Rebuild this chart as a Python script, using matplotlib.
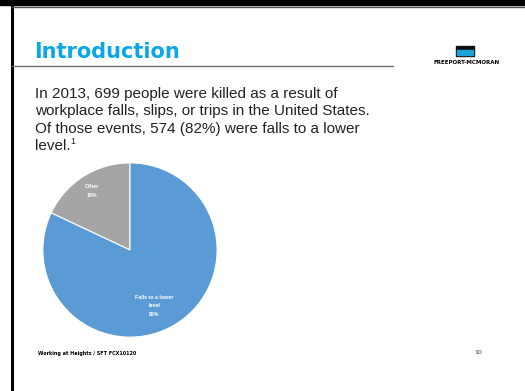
import matplotlib.pyplot as plt
from matplotlib.patches import Rectangle
from matplotlib.lines import Line2D

W, H = 525, 391

labels = ['Other', 'Falls to a lower\nlevel']
shares = [18, 82]
colours = ['#a5a5a5', '#5b9bd5']

title = 'Introduction'
body_lines = ['In 2013, 699 people were killed as a result of',
              'workplace falls, slips, or trips in the United States.',
              'Of those events, 574 (82%) were falls to a lower',
              'level.']
footer = 'Working at Heights / SFT FCX10120'
page = '10'


def fx(x):
    return x / W


def fy(y):
    return 1 - y / H


fig = plt.figure(figsize=(W / 100, H / 100), dpi=100)
fig.patch.set_facecolor('white')

# slide frame
fig.patches.append(Rectangle((0, fy(4.5)), 1, 4.5 / H, transform=fig.transFigure,
                             color='black', zorder=5))
fig.lines.append(Line2D([fx(12), fx(12)], [fy(5), 0], transform=fig.transFigure,
                        color='black', lw=2.2))
fig.lines.append(Line2D([fx(12), 1], [fy(6.5), fy(6.5)], transform=fig.transFigure,
                        color='#555555', lw=1))

# title and rule
fig.text(fx(34), fy(52), title, color='#0aa6e6', fontsize=15, fontweight='bold',
         family='DejaVu Sans', va='center', ha='left')
fig.lines.append(Line2D([fx(12), fx(393)], [fy(66), fy(66)], transform=fig.transFigure,
                        color='#707070', lw=1))

# logo
fig.patches.append(Rectangle((fx(456), fy(56)), 18 / W, 10 / H, transform=fig.transFigure,
                             color='#111111'))
fig.patches.append(Rectangle((fx(457), fy(55)), 16 / W, 5 / H, transform=fig.transFigure,
                             color='#1aa3d8'))
fig.text(fx(467), fy(63), 'FREEPORT-MCMORAN', fontsize=4, fontweight='bold',
         ha='center', va='center', color='black')

# body text
baselines = [98, 115.5, 133, 150.5]
for line, yb in zip(body_lines, baselines):
    fig.text(fx(35), fy(yb), line, fontsize=11, family='Liberation Sans', color='#222222',
             va='baseline', ha='left')
fig.text(fx(70.5), fy(144), '1', fontsize=6.5, family='Liberation Sans', color='#222222',
         va='baseline', ha='left')

# pie
ax = fig.add_axes([fx(42), fy(338), 176 / W, 176 / H])
wedges, texts = ax.pie(shares, colors=colours, startangle=90, counterclock=True,
                       labels=[l + '\n%d%%' % s for l, s in zip(labels, shares)],
                       labeldistance=0.62,
                       wedgeprops=dict(edgecolor='white', linewidth=0.8),
                       textprops=dict(color='white', fontsize=3.8, fontweight='bold',
                                      family='Liberation Sans', ha='center', va='center',
                                      linespacing=1.9))
texts[0].set_position((-0.44, 0.68))
texts[1].set_position((0.28, -0.64))
ax.set_xlim(-1.01, 1.01)
ax.set_ylim(-1.01, 1.01)
ax.set_aspect('equal')

# footer
fig.text(fx(38), fy(353), footer, fontsize=3.5, fontweight='bold', va='center', ha='left')
fig.text(fx(478), fy(353), page, fontsize=4.5, va='center', ha='center', color='#333333')

fig.savefig('out.png', dpi=100)
